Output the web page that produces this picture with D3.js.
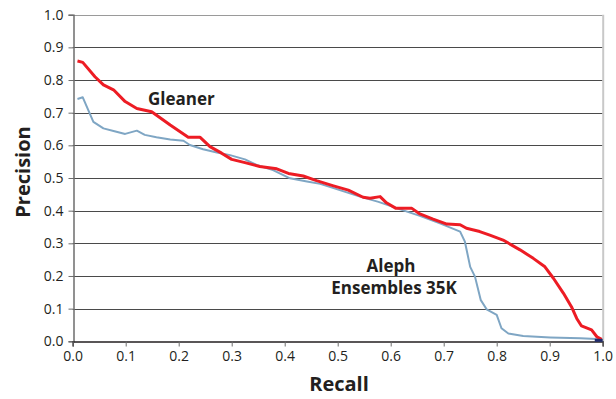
<!DOCTYPE html>
<html>
<head>
<meta charset="utf-8">
<script src="https://cdn.jsdelivr.net/npm/d3@7"></script>
<style>
  html, body { margin: 0; padding: 0; background: #fff; }
  svg { display: block; }
  text { font-family: "Open Sans", "Liberation Sans", sans-serif; fill: #231f20; }
</style>
</head>
<body>
<svg id="chart" width="616" height="399"></svg>
<script>
// Precision / recall curves
const gleanerRecall = [0.009, 0.019, 0.042, 0.058, 0.077, 0.099, 0.121, 0.149, 0.184, 0.218, 0.240,
  0.259, 0.281, 0.300, 0.325, 0.353, 0.385, 0.407, 0.435, 0.460, 0.492, 0.520, 0.548, 0.561, 0.580,
  0.592, 0.610, 0.640, 0.655, 0.680, 0.706, 0.731, 0.743, 0.768, 0.787, 0.812, 0.844, 0.869, 0.891,
  0.907, 0.926, 0.941, 0.951, 0.960, 0.979, 0.989, 0.998];
const gleanerPrecision = [0.858, 0.854, 0.810, 0.785, 0.770, 0.734, 0.713, 0.703, 0.662, 0.625, 0.625,
  0.596, 0.576, 0.557, 0.547, 0.535, 0.528, 0.514, 0.506, 0.492, 0.476, 0.463, 0.441, 0.438, 0.443,
  0.424, 0.407, 0.407, 0.390, 0.374, 0.359, 0.357, 0.346, 0.336, 0.325, 0.310, 0.280, 0.254, 0.228,
  0.193, 0.147, 0.106, 0.070, 0.047, 0.035, 0.014, 0.006];

const alephRecall = [0.009, 0.019, 0.039, 0.058, 0.077, 0.099, 0.121, 0.136, 0.158, 0.184, 0.209,
  0.221, 0.246, 0.272, 0.297, 0.325, 0.347, 0.378, 0.410, 0.442, 0.467, 0.504, 0.542, 0.577, 0.618,
  0.655, 0.693, 0.731, 0.740, 0.750, 0.759, 0.770, 0.781, 0.800, 0.809, 0.822, 0.850, 0.901, 0.958, 0.998];
const alephPrecision = [0.742, 0.747, 0.672, 0.652, 0.644, 0.635, 0.645, 0.632, 0.625, 0.618, 0.614,
  0.601, 0.588, 0.578, 0.570, 0.557, 0.540, 0.524, 0.499, 0.489, 0.482, 0.463, 0.443, 0.427, 0.404,
  0.384, 0.361, 0.336, 0.305, 0.228, 0.198, 0.126, 0.098, 0.081, 0.040, 0.024, 0.016, 0.012, 0.009, 0.006];

const tailRecall = [0.985, 1.0];
const tailPrecision = [0.003, 0.003];

const xTicks = [0, 0.1, 0.2, 0.3, 0.4, 0.5, 0.6, 0.7, 0.8, 0.9, 1.0];
const yTicks = [0, 0.1, 0.2, 0.3, 0.4, 0.5, 0.6, 0.7, 0.8, 0.9, 1.0];

const svg = d3.select("#chart");
const x = d3.scaleLinear().domain([0, 1]).range([72.7, 602.7]);
const y = d3.scaleLinear().domain([0, 1]).range([341.3, 14.7]);

// horizontal gridlines
svg.append("g").selectAll("line").data(yTicks.filter(d => d > 0)).join("line")
  .attr("x1", x(0)).attr("x2", x(1))
  .attr("y1", d => Math.round(y(d)) + 0.5).attr("y2", d => Math.round(y(d)) + 0.5)
  .attr("stroke", d => d === 1 ? "#9a9a9a" : "#4a4a4a")
  .attr("stroke-width", 1);

// right frame edge
svg.append("line")
  .attr("x1", x(1) + 0.5).attr("x2", x(1) + 0.5)
  .attr("y1", y(1)).attr("y2", y(0))
  .attr("stroke", "#c8c8c8").attr("stroke-width", 2);

// y axis
const yAxis = d3.axisLeft(y).tickValues(yTicks).tickFormat(d3.format(".1f"))
  .tickSize(5).tickPadding(5);
const gy = svg.append("g").attr("transform", `translate(${Math.round(x(0)) + 0.5},0)`).call(yAxis);
gy.select(".domain").attr("stroke", "#6d6d6d").attr("stroke-width", 1.5);
gy.selectAll(".tick line").attr("stroke", "#6d6d6d");
gy.selectAll(".tick text").attr("font-size", 14).attr("fill", "#231f20")
  .attr("font-family", "'Open Sans', sans-serif");

// x axis
const xAxis = d3.axisBottom(x).tickValues(xTicks).tickFormat(d3.format(".1f"))
  .tickSize(5).tickPadding(5);
const gx = svg.append("g").attr("transform", `translate(0,${Math.round(y(0)) + 0.5})`).call(xAxis);
gx.select(".domain").attr("stroke", "#231f20").attr("stroke-width", 1.5);
gx.selectAll(".tick line").attr("stroke", "#6d6d6d");
gx.selectAll(".tick text").attr("font-size", 14).attr("fill", "#231f20")
  .attr("font-family", "'Open Sans', sans-serif");

// curves
const line = d3.line().x(d => x(d[0])).y(d => y(d[1]));
const zip = (a, b) => a.map((v, i) => [v, b[i]]);

svg.append("path").datum(zip(alephRecall, alephPrecision))
  .attr("d", line).attr("fill", "none")
  .attr("stroke", "#7fa6c4").attr("stroke-width", 2).attr("stroke-linejoin", "round");

svg.append("path").datum(zip(gleanerRecall, gleanerPrecision))
  .attr("d", line).attr("fill", "none")
  .attr("stroke", "#ed1c24").attr("stroke-width", 3).attr("stroke-linejoin", "round");

svg.append("path").datum(zip(tailRecall, tailPrecision))
  .attr("d", line).attr("fill", "none")
  .attr("stroke", "#1f2a6b").attr("stroke-width", 3);

// series labels
svg.append("text").attr("x", 148).attr("y", 105)
  .attr("font-size", 17).attr("font-weight", "bold").text("Gleaner");
svg.append("text").attr("x", 391).attr("y", 272).attr("text-anchor", "middle")
  .attr("font-size", 17).attr("font-weight", "bold").text("Aleph");
svg.append("text").attr("x", 394).attr("y", 294).attr("text-anchor", "middle")
  .attr("font-size", 17).attr("font-weight", "bold").text("Ensembles 35K");

// axis titles
svg.append("text").attr("x", 339).attr("y", 391).attr("text-anchor", "middle")
  .attr("font-size", 20).attr("font-weight", "bold").text("Recall");
svg.append("text").attr("transform", "translate(30,172) rotate(-90)").attr("text-anchor", "middle")
  .attr("font-size", 20).attr("font-weight", "bold").text("Precision");
</script>
</body>
</html>
